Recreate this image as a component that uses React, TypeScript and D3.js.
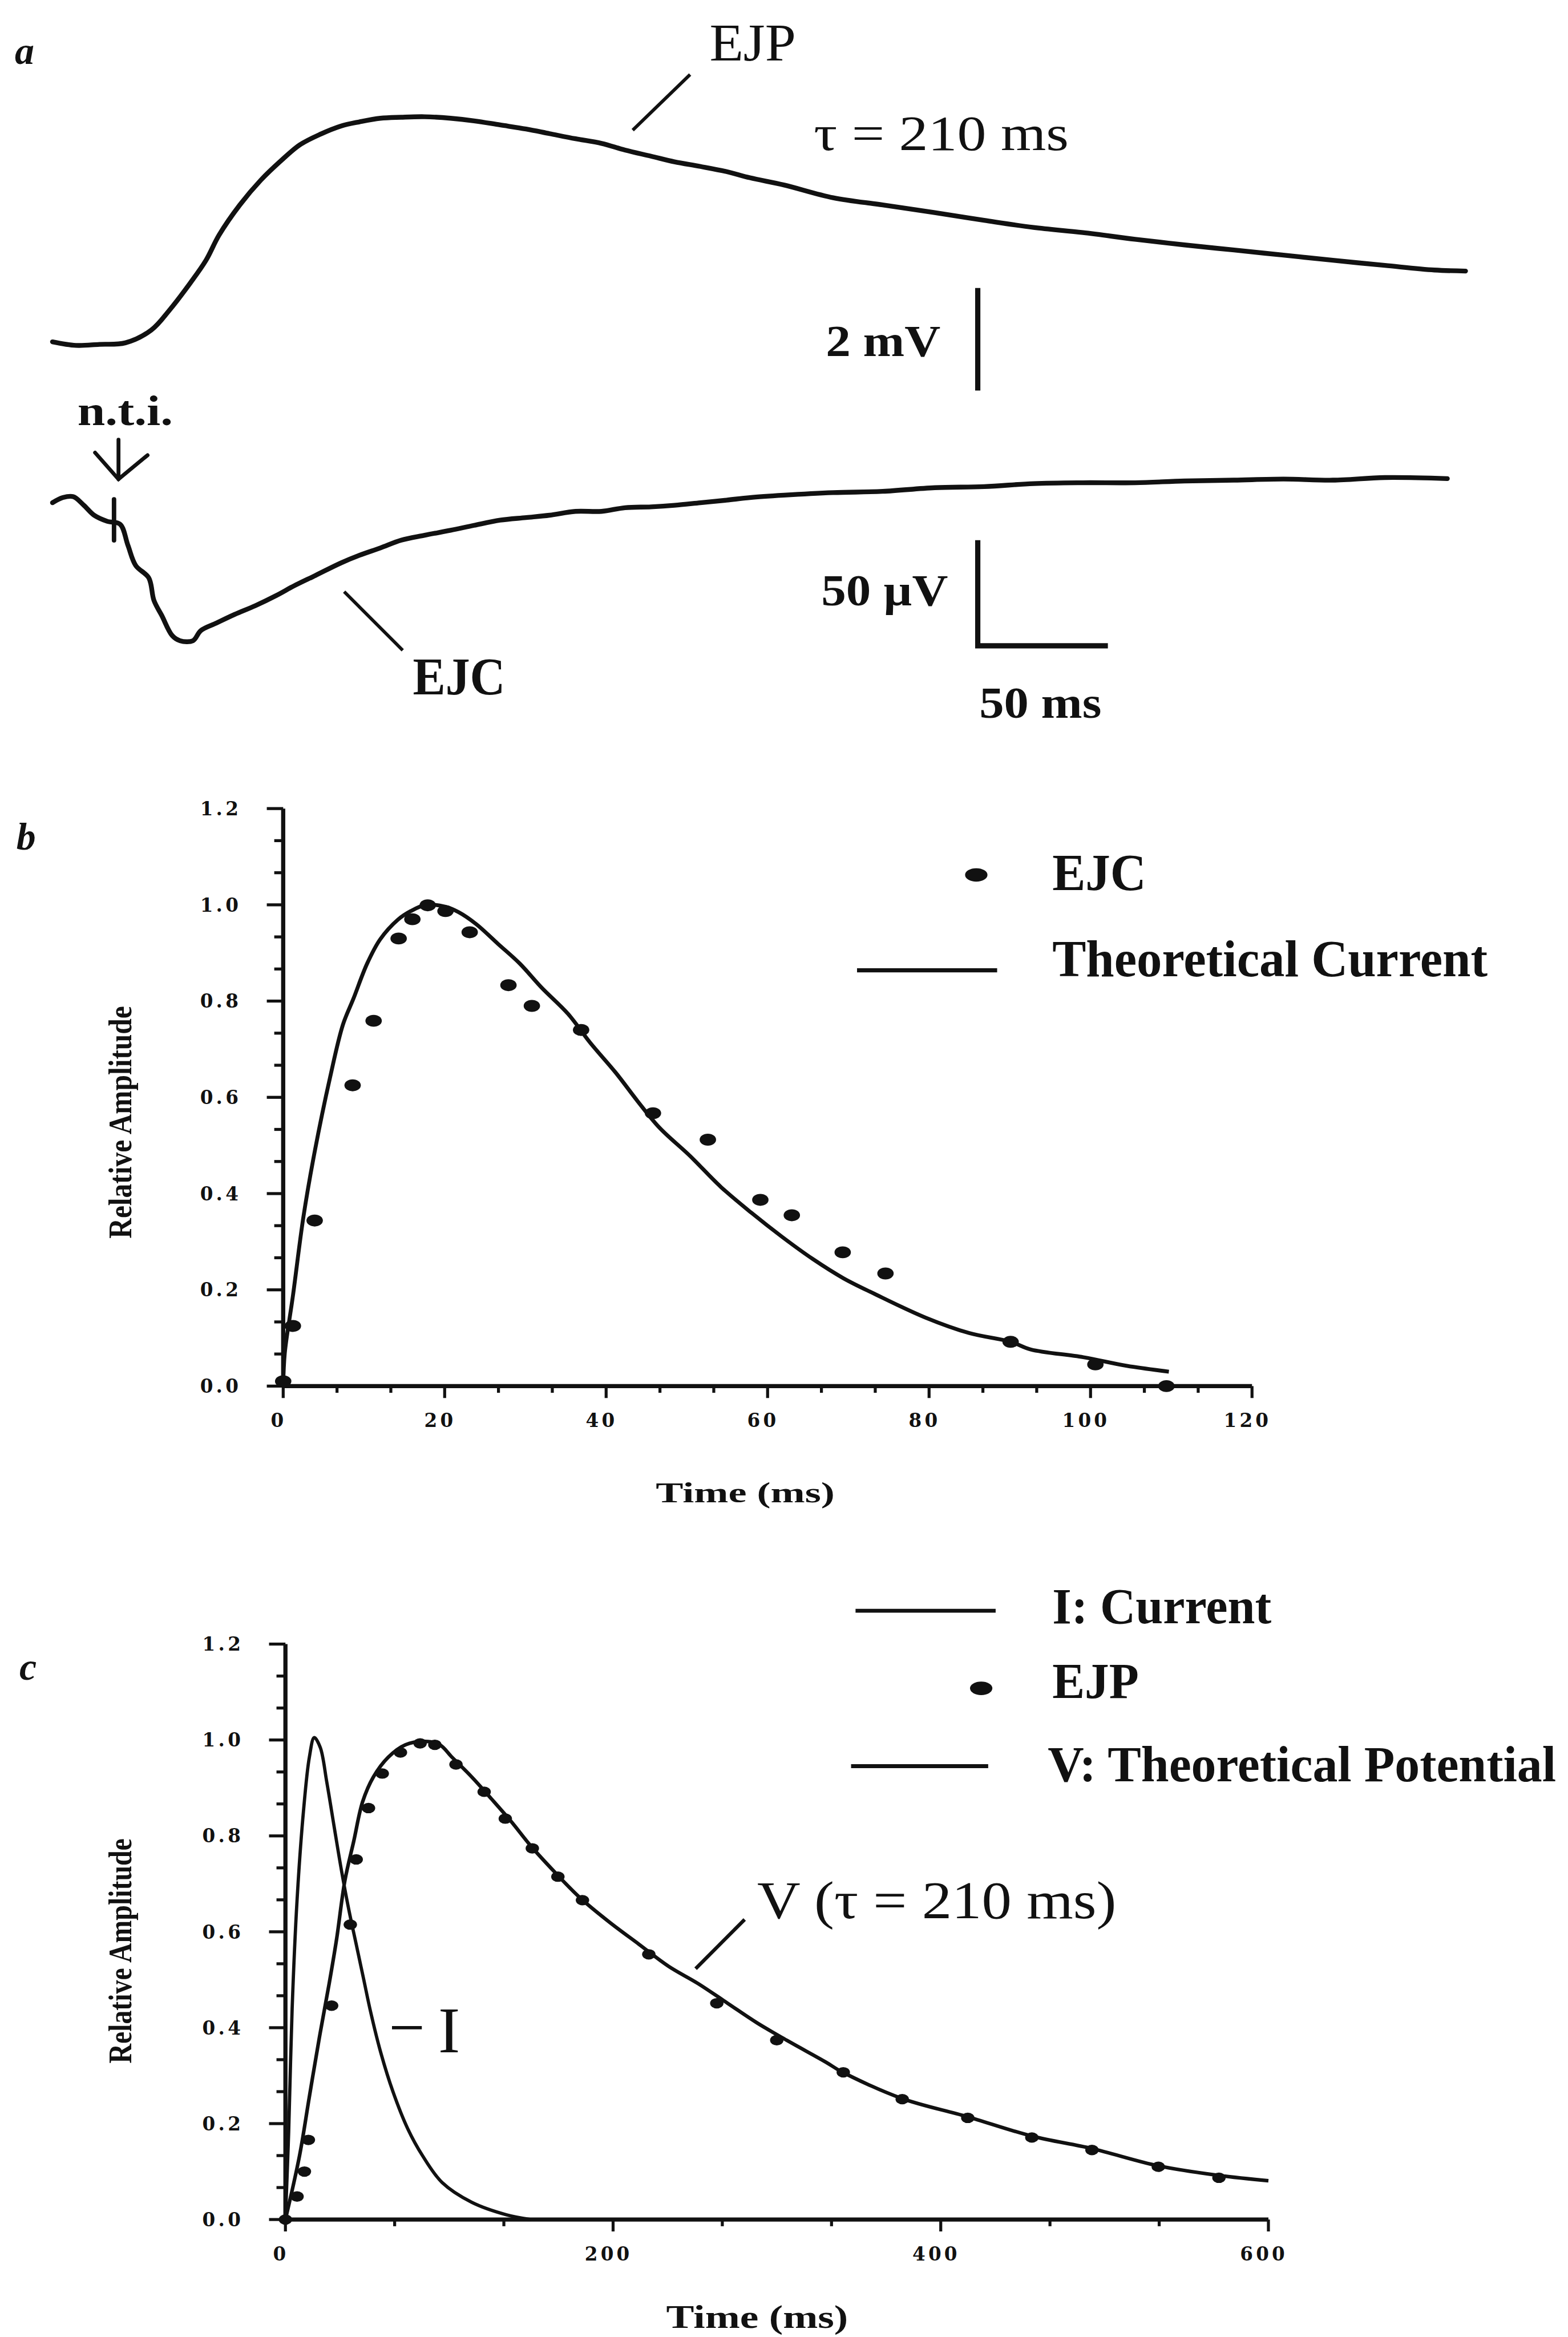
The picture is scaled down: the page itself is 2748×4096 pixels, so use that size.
import React from 'react'
import * as d3 from 'd3'

// panel a: raw recordings (time in ms, EJP in mV, EJC in µV from resting level)
const ejpTraceT = [0, 9, 18, 28, 38, 45, 53, 59, 64, 72, 80, 88, 95, 103, 111, 118, 126, 134, 143, 153, 162, 172, 182, 191, 201, 211, 220, 230, 239, 249, 259, 268, 281, 300, 319, 339, 358, 377, 396, 416, 435, 454, 473, 492, 512, 531, 543]
const ejpTraceMv = [0.02, -0.05, -0.03, 0, 0.25, 0.64, 1.17, 1.61, 2.1, 2.69, 3.17, 3.56, 3.86, 4.07, 4.23, 4.31, 4.38, 4.4, 4.41, 4.38, 4.33, 4.25, 4.17, 4.08, 3.98, 3.89, 3.76, 3.64, 3.53, 3.44, 3.34, 3.22, 3.08, 2.83, 2.69, 2.54, 2.39, 2.25, 2.15, 2.02, 1.91, 1.81, 1.71, 1.61, 1.51, 1.42, 1.4]
const ejcTraceT = [0, 4, 8, 12, 16, 21, 26, 29, 32, 37, 39, 42, 46, 49, 54, 57, 63, 70, 78, 86, 93, 101, 111, 118, 126, 134, 143, 153, 162, 172, 182, 191, 201, 211, 220, 230, 239, 249, 259, 268, 281, 300, 319, 339, 358, 377, 396, 416, 435, 454, 473, 492, 512, 536]
const ejcTraceUv = [0, 2.4, 2.8, -1.1, -5.8, -8.6, -10, -19.8, -29.2, -34.9, -45.4, -52.4, -61.7, -64.1, -64.1, -59.4, -55.9, -51.9, -47.8, -43.1, -38.5, -33.8, -27.9, -24.4, -21, -17.4, -15.1, -12.8, -10.5, -8.1, -6.9, -5.8, -4, -4, -2.3, -1.9, -1.2, 0, 1.2, 2.4, 3.5, 4.7, 5.3, 7, 7.5, 8.9, 9.3, 9.3, 10.1, 10.5, 11, 10.5, 11.7, 11.2]

// panel b: measured EJC vs theoretical current
const ejcT = [0, 1.2, 3.9, 8.6, 11.2, 14.3, 16.0, 17.9, 20.1, 23.1, 27.9, 30.8, 36.9, 45.8, 52.6, 59.1, 63.0, 69.3, 74.6, 90.1, 100.6, 109.4]
const ejcA = [0.01, 0.125, 0.344, 0.625, 0.759, 0.93, 0.97, 0.999, 0.987, 0.943, 0.833, 0.79, 0.74, 0.567, 0.512, 0.387, 0.355, 0.278, 0.234, 0.092, 0.045, 0.0]
const curT = [0, 0.2, 1.2, 2.5, 3.9, 5.8, 7.4, 8.7, 10.4, 12.0, 14.2, 15.8, 17.7, 20.1, 21.7, 23.9, 26.6, 29.3, 32.0, 35.3, 38.0, 41.2, 43.9, 46.6, 50.4, 54.2, 58.0, 61.8, 65.6, 69.4, 73.2, 79.6, 85.0, 90.1, 92.6, 99.1, 104.5, 109.7]
const curA = [0, 0.069, 0.187, 0.351, 0.487, 0.641, 0.751, 0.805, 0.878, 0.928, 0.969, 0.987, 1.0, 0.996, 0.985, 0.96, 0.919, 0.878, 0.828, 0.773, 0.714, 0.651, 0.592, 0.537, 0.478, 0.414, 0.36, 0.31, 0.264, 0.224, 0.192, 0.142, 0.11, 0.092, 0.076, 0.06, 0.042, 0.03]

// panel c: measured EJP, current I and theoretical potential V
const ejpT = [0, 7.1, 11.6, 14.0, 28.2, 39.6, 43.2, 50.7, 59.1, 70.2, 82.2, 91.2, 104.1, 121.3, 134.2, 150.7, 166.3, 181.3, 221.8, 263.3, 299.9, 340.5, 376.5, 416.5, 455.6, 492.3, 532.8, 569.8]
const ejpA = [0, 0.048, 0.1, 0.166, 0.446, 0.615, 0.751, 0.858, 0.93, 0.974, 0.993, 0.99, 0.949, 0.892, 0.836, 0.774, 0.715, 0.666, 0.553, 0.451, 0.374, 0.307, 0.251, 0.212, 0.171, 0.145, 0.11, 0.087]
const iT = [0, 2.0, 4.1, 7.1, 11.0, 14.6, 17.6, 21.3, 25.2, 29.7, 34.2, 38.7, 43.2, 47.7, 52.2, 58.2, 65.7, 74.7, 83.7, 95.7, 113.7, 134.8, 149.8]
const iA = [0, 0.184, 0.44, 0.666, 0.851, 0.964, 1.005, 0.984, 0.913, 0.82, 0.728, 0.646, 0.574, 0.502, 0.43, 0.348, 0.266, 0.189, 0.133, 0.077, 0.036, 0.01, 0]
const vT = [0, 8.6, 14.6, 20.7, 26.7, 31.2, 36.3, 41.7, 47.1, 53.7, 62.7, 73.2, 85.2, 94.2, 101.7, 113.7, 125.8, 137.8, 149.8, 164.8, 179.8, 197.8, 215.8, 233.9, 251.9, 269.9, 287.9, 305.9, 330, 339.1, 375.8, 415.7, 455.6, 492.3, 532.8, 569.8, 600]
const vA = [0, 0.133, 0.256, 0.379, 0.492, 0.584, 0.707, 0.789, 0.871, 0.923, 0.964, 0.99, 0.997, 0.99, 0.964, 0.923, 0.877, 0.83, 0.779, 0.723, 0.671, 0.62, 0.574, 0.528, 0.492, 0.451, 0.41, 0.374, 0.328, 0.309, 0.253, 0.215, 0.174, 0.148, 0.112, 0.092, 0.081]

const ampTicks = [0, 0.2, 0.4, 0.6, 0.8, 1.0, 1.2]
const bTimeTicks = [0, 20, 40, 60, 80, 100, 120]
const cTimeTicks = [0, 200, 400, 600]

const serif = '"Liberation Serif", "Times New Roman", serif'
const tickFont = '"DejaVu Serif", serif'
const ink = '#111'

const zip = (a: number[], b: number[]) => a.map((d, i) => [d, b[i]] as [number, number])

const Axes = ({ x, y, xTicks, xStep }: any) => {
  const [x0, x1] = x.range()
  const [y0, y1] = y.range()
  const xMinor = d3.range(0, x.domain()[1] + 1e-6, xStep / 3)
  const yMinor = d3.range(0, 1.2 + 1e-6, 0.2 / 3)
  const fmt = d3.format('.1f')
  return (
    <g stroke={ink} fill={ink}>
      <line x1={x0} x2={x0} y1={y1} y2={y0} strokeWidth={2.8} />
      <line x1={x0} x2={x1} y1={y0} y2={y0} strokeWidth={2.8} />
      {yMinor.map((v, i) => (
        <line key={'ym' + i} x1={x0} x2={x0 - (i % 3 === 0 ? 11 : 6)} y1={y(v)} y2={y(v)} strokeWidth={2} />
      ))}
      {xMinor.map((v, i) => (
        <line key={'xm' + i} x1={x(v)} x2={x(v)} y1={y0} y2={y0 + (i % 3 === 0 ? 8 : 4.5)} strokeWidth={2} />
      ))}
      {ampTicks.map((v) => (
        <text key={'yl' + v} x={x0 - 28} y={y(v) + 4.5} textAnchor="end" stroke="none"
          fontFamily={tickFont} fontWeight="bold" fontSize={12.5} letterSpacing={2}>
          {fmt(v)}
        </text>
      ))}
      {xTicks.map((v: number) => (
        <text key={'xl' + v} x={x(v) - 3} y={y0 + 27.5} textAnchor="middle" stroke="none"
          fontFamily={tickFont} fontWeight="bold" fontSize={12.5} letterSpacing={2}>
          {v}
        </text>
      ))}
    </g>
  )
}

const Dots = ({ x, y, t, a, rx, ry }: any) => (
  <g fill={ink}>
    {t.map((d: number, i: number) => (
      <ellipse key={i} cx={x(d)} cy={y(a[i])} rx={rx} ry={ry} />
    ))}
  </g>
)

export default function App() {
  // panel a
  const tA = d3.scaleLinear().domain([0, 50]).range([35.2, 122.5])
  const mv = d3.scaleLinear().domain([0, 2]).range([230, 161.2])
  const uv = d3.scaleLinear().domain([0, 50]).range([337.3, 265.1])
  const traceLine = d3.line().curve(d3.curveCatmullRom)
  const ejpPath = traceLine(zip(ejpTraceT, ejpTraceMv).map(([t, v]) => [tA(t), mv(v)]))
  const ejcPath = traceLine(zip(ejcTraceT, ejcTraceUv).map(([t, v]) => [tA(t), uv(v)]))

  // panel b
  const xb = d3.scaleLinear().domain([0, 120]).range([190, 840])
  const yb = d3.scaleLinear().domain([0, 1.2]).range([930, 542.5])
  const lineB = d3.line<[number, number]>().x((d) => xb(d[0])).y((d) => yb(d[1])).curve(d3.curveCatmullRom)

  // panel c
  const xc = d3.scaleLinear().domain([0, 600]).range([191.5, 851])
  const yc = d3.scaleLinear().domain([0, 1.2]).range([1489.2, 1103.1])
  const lineC = d3.line<[number, number]>().x((d) => xc(d[0])).y((d) => yc(d[1])).curve(d3.curveCatmullRom)

  const barX = 656

  return (
    <svg width={2748} height={4096} viewBox="0 0 1052 1568"
      style={{ position: 'absolute', left: 0, top: 0, background: '#fff' }}>
      <rect width={1052} height={1568} fill="#fff" />

      {/* ---------- a ---------- */}
      <g fontFamily={serif} fill={ink}>
        <text x={10} y={43} fontSize={26} fontStyle="italic" fontWeight="bold">a</text>
        <path d={ejpPath} fill="none" stroke={ink} strokeWidth={3.2} strokeLinejoin="round" strokeLinecap="round" />
        <path d={ejcPath} fill="none" stroke={ink} strokeWidth={3.2} strokeLinejoin="round" strokeLinecap="round" />
        <text x={476} y={40.5} fontSize={36} textLength={58} lengthAdjust="spacingAndGlyphs">EJP</text>
        <line x1={463} y1={50} x2={424.5} y2={87.3} stroke={ink} strokeWidth={2.2} />
        <text x={546} y={100.5} fontSize={33} textLength={171} lengthAdjust="spacingAndGlyphs">τ = 210 ms</text>
        <text x={554} y={239} fontSize={30} fontWeight="bold" textLength={77} lengthAdjust="spacingAndGlyphs">2 mV</text>
        <line x1={barX} x2={barX} y1={mv(2) + 32} y2={mv(0) + 32} stroke={ink} strokeWidth={3.5} />
        <text x={52} y={285} fontSize={28} fontWeight="bold" textLength={64} lengthAdjust="spacingAndGlyphs">n.t.i.</text>
        <g stroke={ink} strokeWidth={2.6} fill="none" strokeLinecap="round">
          <line x1={79.5} x2={79.5} y1={295} y2={321.5} />
          <polyline points="63.8,303.7 79.5,321.5 99,305.4" />
          <line x1={76.5} x2={76.5} y1={335} y2={362.5} strokeWidth={3} />
        </g>
        <text x={277} y={466} fontSize={36} fontWeight="bold" textLength={62} lengthAdjust="spacingAndGlyphs">EJC</text>
        <line x1={230.9} y1={397} x2={270.2} y2={436.3} stroke={ink} strokeWidth={2.2} />
        <text x={551} y={406} fontSize={30} fontWeight="bold" textLength={85} lengthAdjust="spacingAndGlyphs">50 µV</text>
        <polyline fill="none" stroke={ink} strokeWidth={3.5}
          points={`${barX},${uv(50) + 97.3} ${barX},${uv(0) + 96} ${barX + tA(50) - tA(0)},${uv(0) + 96}`} />
        <text x={657} y={481.5} fontSize={30} fontWeight="bold" textLength={82} lengthAdjust="spacingAndGlyphs">50 ms</text>
      </g>

      {/* ---------- b ---------- */}
      <g fontFamily={serif} fill={ink}>
        <text x={11} y={570} fontSize={26} fontStyle="italic" fontWeight="bold">b</text>
        <Axes x={xb} y={yb} xTicks={bTimeTicks} xStep={20} />
        <path d={lineB(zip(curT, curA))} fill="none" stroke={ink} strokeWidth={2.6} strokeLinejoin="round" />
        <Dots x={xb} y={yb} t={ejcT} a={ejcA} rx={5.5} ry={4} />
        <text x={500} y={1008} fontSize={19} fontWeight="bold" textAnchor="middle" textLength={120} lengthAdjust="spacingAndGlyphs">Time (ms)</text>
        <text transform="translate(88,753) rotate(-90)" fontSize={22} fontWeight="bold" textAnchor="middle"
          textLength={156} lengthAdjust="spacingAndGlyphs">Relative Amplitude</text>
        <ellipse cx={655} cy={587} rx={7.5} ry={4.5} />
        <text x={706} y={597} fontSize={35} fontWeight="bold" textLength={63} lengthAdjust="spacingAndGlyphs">EJC</text>
        <line x1={575} x2={669} y1={651} y2={651} stroke={ink} strokeWidth={2.8} />
        <text x={706} y={655} fontSize={35} fontWeight="bold" textLength={292} lengthAdjust="spacingAndGlyphs">Theoretical Current</text>
      </g>

      {/* ---------- c ---------- */}
      <g fontFamily={serif} fill={ink}>
        <text x={13} y={1127} fontSize={26} fontStyle="italic" fontWeight="bold">c</text>
        <Axes x={xc} y={yc} xTicks={cTimeTicks} xStep={200} />
        <path d={lineC(zip(iT, iA))} fill="none" stroke={ink} strokeWidth={2.2} strokeLinejoin="round" />
        <path d={lineC(zip(vT, vA))} fill="none" stroke={ink} strokeWidth={2.4} strokeLinejoin="round" />
        <Dots x={xc} y={yc} t={ejpT} a={ejpA} rx={4.5} ry={3.5} />
        <text x={508} y={1562} fontSize={22} fontWeight="bold" textAnchor="middle" textLength={122} lengthAdjust="spacingAndGlyphs">Time (ms)</text>
        <text transform="translate(88,1309) rotate(-90)" fontSize={22} fontWeight="bold" textAnchor="middle"
          textLength={151} lengthAdjust="spacingAndGlyphs">Relative Amplitude</text>
        <line x1={574} x2={668} y1={1080.7} y2={1080.7} stroke={ink} strokeWidth={2.6} />
        <text x={706} y={1089} fontSize={34} fontWeight="bold" textLength={147} lengthAdjust="spacingAndGlyphs">I: Current</text>
        <ellipse cx={658.3} cy={1132.8} rx={7.5} ry={4.5} />
        <text x={706} y={1139.4} fontSize={34} fontWeight="bold" textLength={58} lengthAdjust="spacingAndGlyphs">EJP</text>
        <line x1={571} x2={663} y1={1185} y2={1185} stroke={ink} strokeWidth={2.6} />
        <text x={703} y={1195} fontSize={34} fontWeight="bold" textLength={341} lengthAdjust="spacingAndGlyphs">V: Theoretical Potential</text>
        <text x={508} y={1287} fontSize={36} textLength={241} lengthAdjust="spacingAndGlyphs">V  (τ = 210 ms)</text>
        <line x1={499.6} y1={1287.9} x2={466.7} y2={1320.9} stroke={ink} strokeWidth={2.4} />
        <line x1={263} x2={283} y1={1360.5} y2={1360.5} stroke={ink} strokeWidth={2.2} />
        <text x={294} y={1377} fontSize={44}>I</text>
      </g>
    </svg>
  )
}
